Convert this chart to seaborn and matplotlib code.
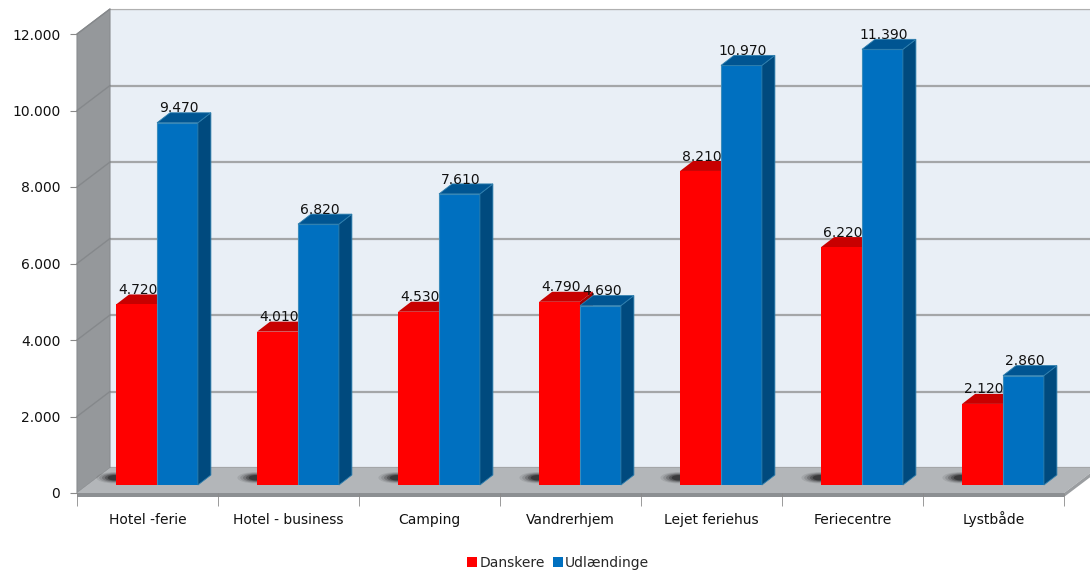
import numpy as np
import pandas as pd
import matplotlib
matplotlib.use("Agg")
import matplotlib.pyplot as plt
import seaborn as sns
from matplotlib.patches import Polygon, Ellipse, Patch
from matplotlib.ticker import FuncFormatter

# ---------------- data ----------------
categories = ["Hotel -ferie", "Hotel - business", "Camping", "Vandrerhjem",
              "Lejet feriehus", "Feriecentre", "Lystbåde"]
danskere = [4720, 4010, 4530, 4790, 8210, 6220, 2120]
udlaendinge = [9470, 6820, 7610, 4690, 10970, 11390, 2860]
series_names = ["Danskere", "Udlændinge"]
yticks = [0, 2000, 4000, 6000, 8000, 10000, 12000]

RED, RED_TOP, RED_SIDE = "#ff0000", "#c80000", "#a00000"
BLUE, BLUE_TOP, BLUE_SIDE = "#0070c0", "#005592", "#004a7e"

sns.set_style("white")
plt.rcParams["font.family"] = ["DejaVu Sans"]

W, H = 1090, 575


def fbox(x0, ytop, x1, ybot):
    return [x0 / W, 1 - ybot / H, (x1 - x0) / W, (ybot - ytop) / H]


def thousands(v, _=None):
    return f"{int(round(v)):,}".replace(",", ".")


fig = plt.figure(figsize=(W / 100, H / 100), dpi=100)
fig.patch.set_facecolor("white")

# back wall (with gridlines)
ax_back = fig.add_axes(fbox(110, 9, 1097, 468))
ax_back.set_facecolor("#e9eff6")
ax_back.set_xlim(-0.5, 6.5)
ax_back.set_ylim(0, 12000)
ax_back.set_yticks(yticks)
ax_back.set_xticks([])
ax_back.tick_params(left=False, labelleft=False)
ax_back.grid(axis="y", color="#a4a6a8", lw=1.6)
for s in ax_back.spines.values():
    s.set_visible(False)
ax_back.spines["top"].set_visible(True)
ax_back.spines["top"].set_color("#b0b0b0")

# background layer in pixel coordinates: side wall and floor
ax_bg = fig.add_axes([0, 0, 1, 1])
ax_bg.set_xlim(0, W)
ax_bg.set_ylim(H, 0)
ax_bg.axis("off")

# front axes (tick labels)
ax_front = fig.add_axes(fbox(77, 34, 1064, 493))
ax_front.patch.set_alpha(0)
ax_front.set_xlim(-0.5, 6.5)
ax_front.set_ylim(0, 12000)
for s in ax_front.spines.values():
    s.set_visible(False)
ax_front.set_yticks(yticks)
ax_front.yaxis.set_major_formatter(FuncFormatter(thousands))
ax_front.tick_params(axis="y", length=5, color="#8a8a8a", pad=7, labelsize=10,
                     labelcolor="#111111", left=True)
ax_front.set_xticks(range(len(categories)))
ax_front.set_xticklabels(categories, va="baseline")
ax_front.set_xticks(np.arange(-0.5, len(categories), 1.0), minor=True)
ax_front.tick_params(axis="x", which="major", length=0, pad=22, labelsize=10,
                     labelcolor="#111111")
ax_front.tick_params(axis="x", which="minor", length=9, color="#8a8a8a",
                     bottom=True)
ax_front.set_xlabel("")
ax_front.set_ylabel("")

# bar plane (mid depth)
ax_bar = fig.add_axes(fbox(86.5, 26, 1073.5, 485))

df = pd.DataFrame({
    "Kategori": categories * 2,
    "Værdi": danskere + udlaendinge,
    "Serie": [series_names[0]] * len(categories) + [series_names[1]] * len(categories),
})
sns.barplot(data=df, x="Kategori", y="Værdi", hue="Serie", order=categories,
            hue_order=series_names, palette={series_names[0]: RED, series_names[1]: BLUE},
            width=0.58, saturation=1, errorbar=None, legend=False, ax=ax_bar)
ax_bar.set_xlim(-0.5, 6.5)
ax_bar.set_ylim(0, 12000)
ax_bar.axis("off")

# ---- side wall + floor, derived from the axes' scales ----
def to_bg(ax, x, y):
    p = ax.transData.transform((x, y))
    return ax_bg.transData.inverted().transform(p)

fl = to_bg(ax_front, -0.5, 0)
fr = to_bg(ax_front, 6.5, 0)
ft = to_bg(ax_front, -0.5, 12000)
bl = to_bg(ax_back, -0.5, 0)
br = to_bg(ax_back, 6.5, 0)
bt = to_bg(ax_back, -0.5, 12000)

ax_bg.add_patch(Polygon([ft, bt, bl, fl], closed=True, facecolor="#95989b",
                        edgecolor="#8a8d90", lw=0.8))
for v in yticks[1:]:
    a = to_bg(ax_front, -0.5, v)
    b = to_bg(ax_back, -0.5, v)
    ax_bg.plot([a[0], b[0]], [a[1], b[1]], color="#85888b", lw=1.0)

ax_bg.add_patch(Polygon([fl, bl, br, fr], closed=True, facecolor="#b3b6b9",
                        edgecolor="none"))
th = 4
ax_bg.add_patch(Polygon([fl, fr, (fr[0], fr[1] + th), (fl[0], fl[1] + th)],
                        closed=True, facecolor="#8c8f92", edgecolor="none"))
ax_bg.add_patch(Polygon([fr, br, (br[0], br[1] + th), (fr[0], fr[1] + th)],
                        closed=True, facecolor="#9a9da0", edgecolor="none"))

# ---- 3D faces of the bars ----
ddx = 13 / 141.0
ddy = 10 * 12000 / 459.0

for p in ax_bar.patches:
    x0, w, h = p.get_x(), p.get_width(), p.get_height()
    is_red = p.get_facecolor()[0] > 0.9
    top_c, side_c = (RED_TOP, RED_SIDE) if is_red else (BLUE_TOP, BLUE_SIDE)
    z = 1 if is_red else 3
    p.set_zorder(2)
    if is_red:
        p.set_edgecolor("none")
        p.set_linewidth(0)
    else:
        p.set_edgecolor("#3a8cbc")
        p.set_linewidth(0.8)
    top = [(x0, h), (x0 + w, h), (x0 + w + ddx, h + ddy), (x0 + ddx, h + ddy)]
    side = [(x0 + w, 0), (x0 + w, h), (x0 + w + ddx, h + ddy), (x0 + w + ddx, ddy)]
    ec = "none" if is_red else "#2f7fae"
    ax_bar.add_patch(Polygon(side, closed=True, facecolor=side_c, edgecolor=ec,
                             lw=0.6, zorder=z, clip_on=False))
    ax_bar.add_patch(Polygon(top, closed=True, facecolor=top_c, edgecolor=ec,
                             lw=0.6, zorder=z, clip_on=False))
    if is_red:
        # soft shadow on the floor left of the bar group
        for k, a in enumerate([0.08, 0.12, 0.18, 0.25, 0.35]):
            ax_bar.add_patch(Ellipse((x0 - 0.01, 190), 0.26 - 0.04 * k, 300 - 40 * k,
                                     facecolor="black", edgecolor="none", alpha=a,
                                     zorder=0.5, clip_on=False))
    ax_bar.annotate(thousands(h), (x0 + w / 2, h), xytext=(1, 7.5),
                    textcoords="offset points", ha="center", va="baseline",
                    fontsize=10, color="#111111", zorder=5, annotation_clip=False)

# ---- legend ----
handles = [Patch(facecolor=RED, edgecolor="none"), Patch(facecolor=BLUE, edgecolor="none")]
fig.legend(handles, series_names, loc="center", bbox_to_anchor=(0.512, 1 - 563 / H),
           ncol=2, frameon=False, fontsize=10, handlelength=0.7, handleheight=0.7,
           handletextpad=0.15, columnspacing=0.6)

fig.savefig("out.png", dpi=100, facecolor="white")
